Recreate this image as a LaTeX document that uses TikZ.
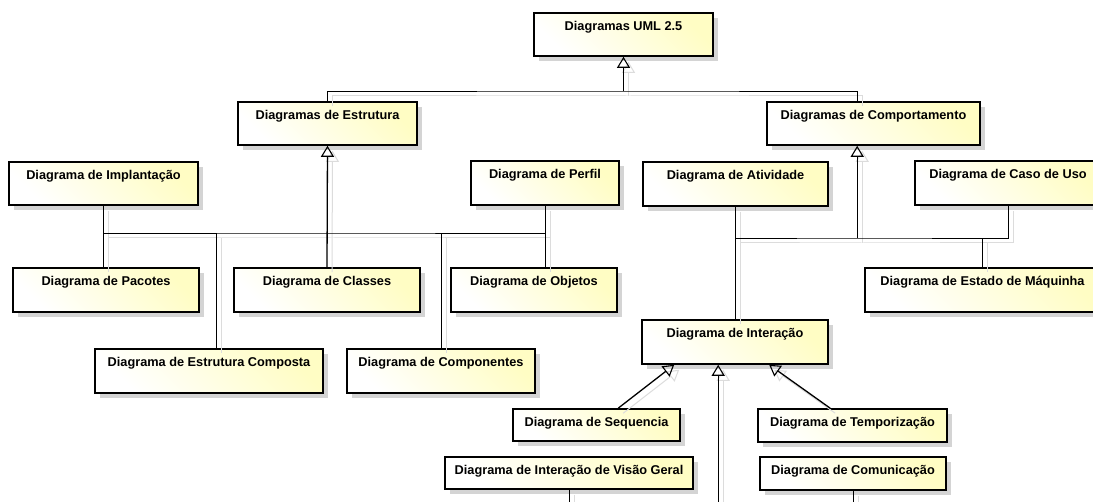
\documentclass[tikz,border=0pt]{standalone}
\usepackage{fontspec}
\setmainfont{Liberation Sans}
\usetikzlibrary{arrows.meta,calc,fit,shadows}

\definecolor{boxyellow}{RGB}{255,253,196}
\definecolor{boxshade}{RGB}{212,212,212}
\definecolor{lineshade}{RGB}{220,220,220}

\tikzset{
  umlbox/.style={draw=black, line width=1.6pt, inner sep=0pt,
    left color=white, right color=boxyellow, shading angle=135,
    drop shadow={shadow xshift=5pt, shadow yshift=-5.5pt, fill=boxshade, draw=none, opacity=1}},
  lbl/.style={font=\bfseries\fontsize{12.75}{15}\selectfont, inner sep=0pt, anchor=base},
  conn/.style={draw=black, line width=0.9pt},
  gen/.style={draw=black, line width=1.3pt,
    -{Triangle[open, length=11pt, width=13pt, line width=1.1pt]}},
}

% one class box: name, left, top, right, bottom, caption
\newcommand\umlitem[6]{%
  \node[umlbox, fit={(#2,#3) (#4,#5)}] (#1) {};
  \node[lbl] (#1-t) at ($(#1.north)+(0,18.5)$) {#6};
}

% every connector of the hierarchy
\newcommand\links{%
  \draw[gen] (barA) -- (uml.south);
  \draw[conn] (estr.north) |- (barA) -| (compT);
  \draw[gen] (classes.north) -- (estr.south);
  \draw[conn] (impl.south) |- (barB) -| (perfil.south);
  \draw[conn] (pac.north -| impl.south) -- (impl.south |- barB);
  \draw[conn] (obj.north -| perfil.south) -- (perfil.south |- barB);
  \draw[conn] (ecompT) -- (ecompT |- barB);
  \draw[conn] (compon.north) -- (compon.north |- barB);
  \draw[gen] (barC) -- (compB);
  \draw[conn] (ativ.south) |- (barC) -| (caso.south);
  \draw[conn] (inter.north) -- (inter.north |- barC);
  \draw[conn] (estado.north) -- (estado.north |- barC);
  \draw[gen] (seqT) -- (interL);
  \draw[gen] (tempT) -- (interR);
  \draw[gen] (tailC) -- (interC);
  \draw[conn] (visao.south) -- (visao.south |- tailC);
  \draw[conn] (comun.south) -- (comun.south |- tailC);
}

\begin{document}
\begin{tikzpicture}[x=1pt, y=-1pt]
  \useasboundingbox (0,0) rectangle (1093,502);
  \clip (0,0) rectangle (1093,502);
  \fill[white] (0,0) rectangle (1093,502);

  % boxes
  \umlitem{uml}{534}{13}{713}{56}{Diagramas UML 2.5}
  \umlitem{estr}{238}{102}{417}{145}{Diagramas de Estrutura}
  \umlitem{comp}{767}{102}{980}{145}{Diagramas de Comportamento}
  \umlitem{impl}{9}{162}{198}{205}{Diagrama de Implantação}
  \umlitem{perfil}{471}{161}{619}{205}{Diagrama de Perfil}
  \umlitem{pac}{13}{268}{199}{312}{Diagrama de Pacotes}
  \umlitem{classes}{234}{268}{420}{312}{Diagrama de Classes}
  \umlitem{obj}{451}{268}{617}{312}{Diagrama de Objetos}
  \umlitem{ecomp}{95}{349}{323}{393}{Diagrama de Estrutura Composta}
  \umlitem{compon}{347}{349}{535}{393}{Diagrama de Componentes}
  \umlitem{ativ}{643}{162}{828}{206}{Diagrama de Atividade}
  \umlitem{caso}{915}{161}{1101}{205}{Diagrama de Caso de Uso}
  \umlitem{estado}{865}{268}{1100}{312}{Diagrama de Estado de Máquinha}
  \umlitem{inter}{642}{320}{828}{364}{Diagrama de Interação}
  \umlitem{seq}{513}{409}{680}{441}{Diagrama de Sequencia}
  \umlitem{temp}{758}{409}{947}{442}{Diagrama de Temporização}
  \umlitem{visao}{445}{457}{693}{489}{Diagrama de Interação de Visão Geral}
  \umlitem{comun}{760}{457}{946}{490}{Diagrama de Comunicação}

  % junction points of the connectors
  \coordinate (barA) at (uml.south |- 0,91);
  \coordinate (compT) at ($(comp.north west)+(91,0)$);
  \coordinate (compB) at ($(comp.south west)+(91,0)$);
  \coordinate (barB) at (estr.south |- 0,233);
  \coordinate (barC) at (compB |- 0,238);
  \coordinate (ecompT) at ($(ecomp.north west)+(122,0)$);
  \coordinate (seqT) at ($(seq.north west)+(106,0)$);
  \coordinate (interL) at ($(inter.south west)+(33,0)$);
  \coordinate (tempT) at ($(temp.north west)+(73,0)$);
  \coordinate (interR) at ($(inter.south west)+(128,0)$);
  \coordinate (interC) at ($(inter.south west)+(77,0)$);
  \coordinate (tailC) at (interC |- 0,515);

  % soft shadow of the connectors
  \begin{scope}[transform canvas={xshift=5pt, yshift=-5pt},
      conn/.style={draw=lineshade, line width=1pt},
      gen/.style={draw=lineshade, line width=1pt,
        -{Triangle[open, length=11pt, width=13pt, line width=1pt]}}]
    \links
  \end{scope}

  % connectors
  \links
\end{tikzpicture}
\end{document}
